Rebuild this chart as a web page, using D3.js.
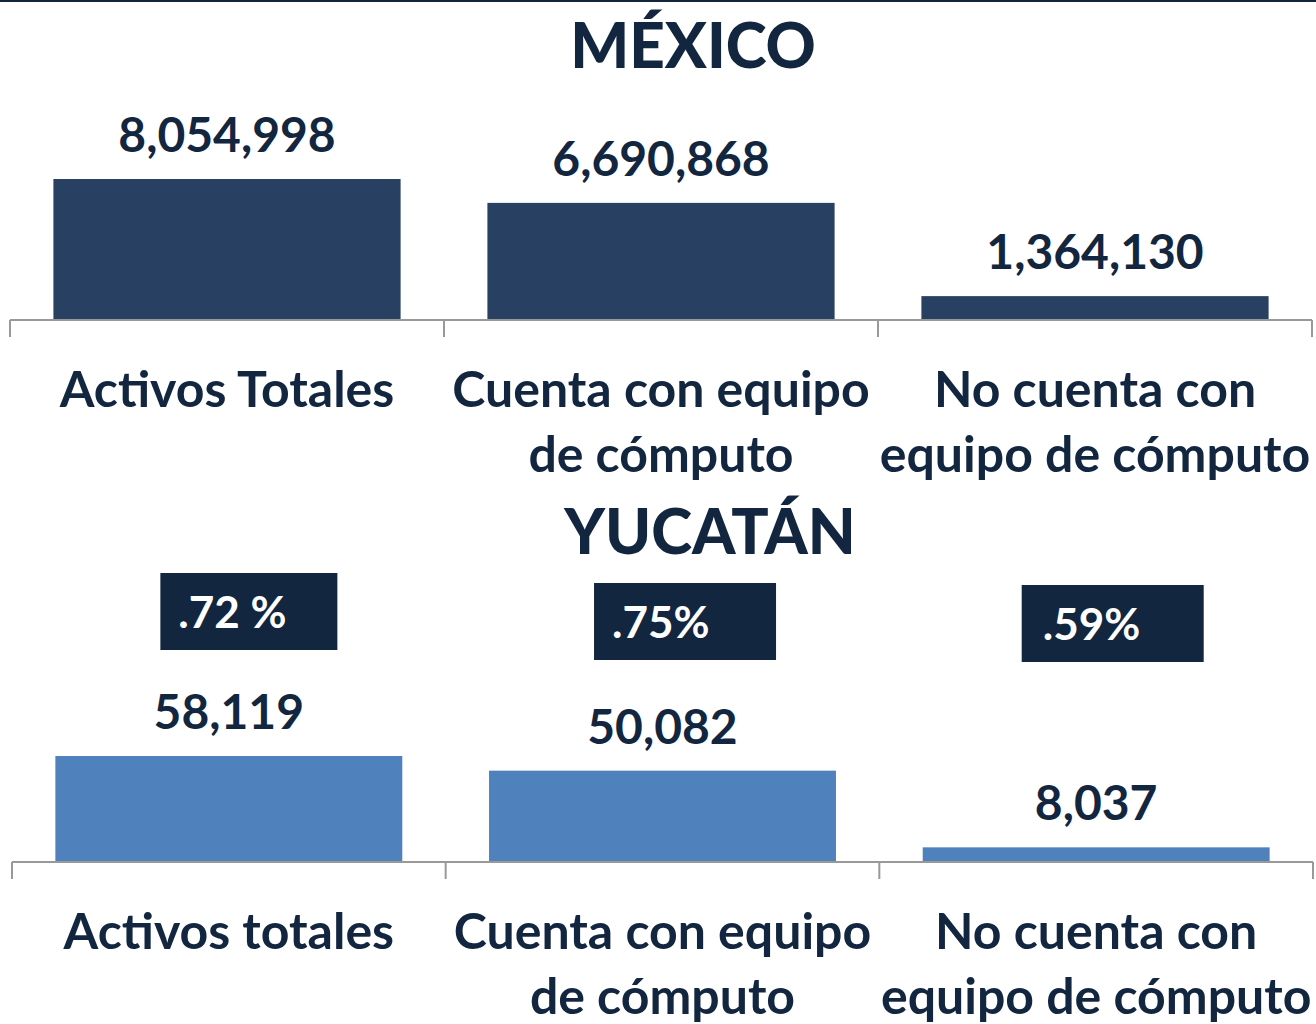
<!DOCTYPE html>
<html>
<head>
<meta charset="utf-8">
<script src="https://cdn.jsdelivr.net/npm/d3@7"></script>
<style>
  body { margin: 0; background: #fff; }
  svg { display: block; font-family: Lato, "Open Sans", sans-serif; }
  .value { font-weight: 700; fill: #13263f; }
  .cat { font-weight: 700; fill: #13263f; }
  .title { font-weight: 900; fill: #13263f; }
</style>
</head>
<body>
<svg id="chart" width="1316" height="1024"></svg>
<script>
// data
const mexCategories = ["Activos Totales", "Cuenta con equipo|de cómputo", "No cuenta con|equipo de cómputo"];
const mexValues = [8054998, 6690868, 1364130];
const yucCategories = ["Activos totales", "Cuenta con equipo|de cómputo", "No cuenta con|equipo de cómputo"];
const yucValues = [58119, 50082, 8037];
const yucShare = [".72 %", ".75%", ".59%"];

const svg = d3.select("#chart");
const fmt = d3.format(",");

// thin border line at the very top
svg.append("line")
    .attr("x1", 0).attr("x2", 1316)
    .attr("y1", 1).attr("y2", 1)
    .attr("stroke", "#13263f")
    .attr("stroke-width", 2);

function drawPanel(cfg) {
    const x = d3.scaleBand()
        .domain(cfg.categories)
        .range([cfg.left, cfg.right])
        .paddingInner(0.2)
        .paddingOuter(0.1);

    const y = d3.scaleLinear()
        .domain([0, d3.max(cfg.values)])
        .range([cfg.baseline, cfg.baseline - cfg.maxHeight]);

    const g = svg.append("g");

    // title
    g.append("text")
        .attr("class", "title")
        .attr("x", cfg.titleX)
        .attr("y", cfg.titleY)
        .attr("text-anchor", "middle")
        .style("font-size", "62px")
        .text(cfg.title);

    // bars
    g.selectAll("rect.bar")
        .data(cfg.values)
        .join("rect")
        .attr("class", "bar")
        .attr("x", (d, i) => x(cfg.categories[i]))
        .attr("y", d => y(d))
        .attr("width", x.bandwidth())
        .attr("height", d => cfg.baseline - y(d))
        .attr("fill", cfg.color);

    // value labels
    g.selectAll("text.value")
        .data(cfg.values)
        .join("text")
        .attr("class", "value")
        .attr("x", (d, i) => x(cfg.categories[i]) + x.bandwidth() / 2)
        .attr("y", d => y(d) - 27)
        .attr("text-anchor", "middle")
        .style("font-size", "48px")
        .text(d => fmt(d));

    // axis line with ticks on the band boundaries
    const bounds = d3.range(cfg.categories.length + 1).map(i => cfg.left + i * x.step());
    let p = `M${cfg.left},${cfg.baseline}H${cfg.right}`;
    bounds.forEach(b => { p += `M${b},${cfg.baseline}V${cfg.baseline + 17}`; });
    g.append("path")
        .attr("d", p)
        .attr("fill", "none")
        .attr("stroke", "#999")
        .attr("stroke-width", 2);

    // category labels (two lines where needed)
    cfg.categories.forEach(c => {
        const t = g.append("text")
            .attr("class", "cat")
            .attr("x", x(c) + x.bandwidth() / 2)
            .attr("y", cfg.baseline + 87)
            .attr("text-anchor", "middle")
            .style("font-size", "50px");
        c.split("|").forEach((line, j) => {
            t.append("tspan")
                .attr("x", x(c) + x.bandwidth() / 2)
                .attr("dy", j === 0 ? 0 : 65)
                .text(line);
        });
    });

    return x;
}

drawPanel({
    title: "MÉXICO", titleX: 693, titleY: 68,
    categories: mexCategories, values: mexValues,
    left: 10, right: 1312, baseline: 320, maxHeight: 141,
    color: "#284162"
});

const xYuc = drawPanel({
    title: "YUCATÁN", titleX: 710, titleY: 554,
    categories: yucCategories, values: yucValues,
    left: 12, right: 1313, baseline: 862, maxHeight: 106,
    color: "#4f81bd"
});

// share boxes above the Yucatán bars
const boxTop = [573, 583, 585];
const boxShift = [105, 105, 99];
yucShare.forEach((s, i) => {
    const bx = xYuc(yucCategories[i]) + boxShift[i];
    svg.append("rect")
        .attr("x", bx)
        .attr("y", boxTop[i])
        .attr("width", i === 0 ? 177 : 182)
        .attr("height", 77)
        .attr("fill", "#12263f");
    svg.append("text")
        .attr("x", bx + (i === 2 ? 21 : 18))
        .attr("y", boxTop[i] + 55)
        .attr("fill", "#fff")
        .style("font-weight", 700)
        .style("font-size", "44px")
        .text(s);
});
</script>
</body>
</html>
